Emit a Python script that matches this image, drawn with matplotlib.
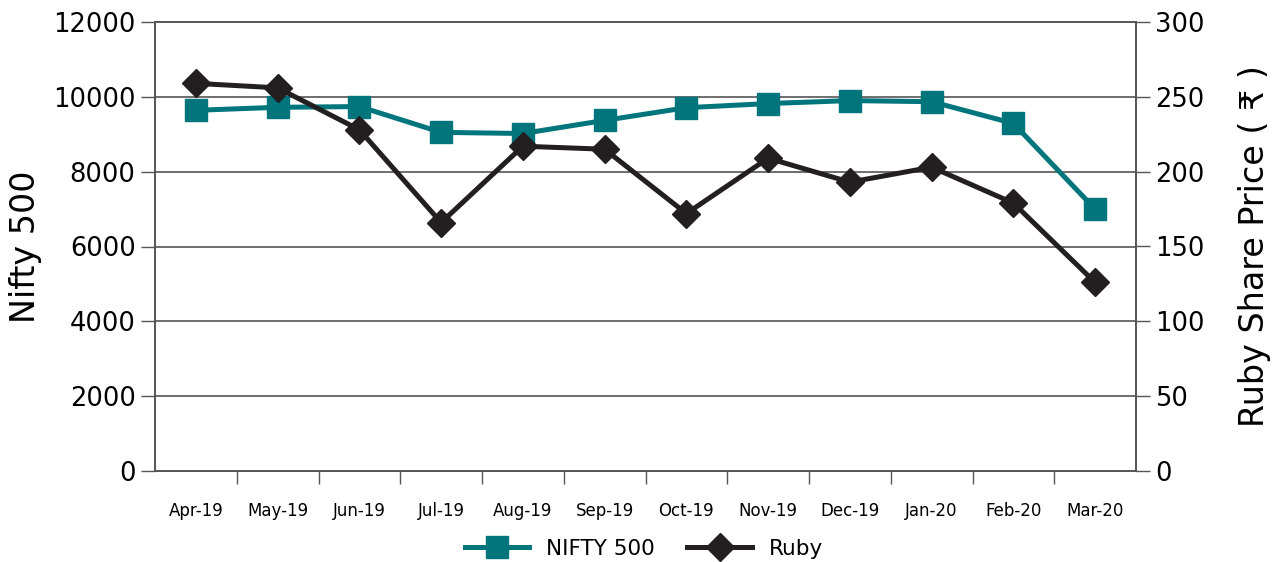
import matplotlib
matplotlib.use("Agg")
import matplotlib.pyplot as plt
import numpy as np

plt.rcParams['font.family'] = ['DejaVu Sans']

months = ['Apr-19', 'May-19', 'Jun-19', 'Jul-19', 'Aug-19', 'Sep-19',
          'Oct-19', 'Nov-19', 'Dec-19', 'Jan-20', 'Feb-20', 'Mar-20']
nifty = [9640, 9720, 9740, 9050, 9020, 9370, 9710, 9820, 9900, 9870, 9290, 7000]
ruby = [259, 256, 228, 166, 217, 215, 172, 209, 193, 203, 179, 126]

teal = '#00757c'
dark = '#231f20'
grid_col = '#555555'

fig = plt.figure(figsize=(12.77, 5.62), dpi=100)
ax = fig.add_axes([155/1277, 1 - 471/562, (1136-155)/1277, (471-22)/562])
ax2 = ax.twinx()

x = np.arange(len(months))
ax.plot(x, nifty, color=teal, lw=3.6, marker='s', ms=16, label='NIFTY 500', zorder=3)
ax2.plot(x, ruby, color=dark, lw=3.6, marker='D', ms=14, label='Ruby', zorder=3)

ax.set_xlim(-0.5, len(months) - 0.5)
ax.set_ylim(0, 12000)
ax2.set_ylim(0, 300)
ax.set_yticks(range(0, 12001, 2000))
ax2.set_yticks(range(0, 301, 50))

ax.set_xticks(x)
ax.set_xticklabels(months, fontsize=12)
ax.set_xticks(np.arange(0.5, len(months) - 0.5, 1), minor=True)
ax.tick_params(axis='x', which='major', length=0, pad=22)
ax.tick_params(axis='x', which='minor', length=9, width=1, color=grid_col)

ax.tick_params(axis='y', length=10, width=1, color=grid_col, labelsize=18.5, pad=4)
ax2.tick_params(axis='y', length=10, width=1, color=grid_col, labelsize=18.5, pad=4)

for yv in range(2000, 10001, 2000):
    ax.axhline(yv, color=grid_col, lw=1.2, zorder=1)

for a in (ax, ax2):
    for s in ('left', 'right', 'bottom', 'top'):
        a.spines[s].set_color(grid_col)
        a.spines[s].set_linewidth(1.2)

ax.set_ylabel('Nifty 500', fontsize=24, labelpad=8)
ax2.set_ylabel('Ruby Share Price ( ₹ )', fontsize=24, labelpad=24)

h1, l1 = ax.get_legend_handles_labels()
h2, l2 = ax2.get_legend_handles_labels()
fig.legend(h1 + h2, l1 + l2, loc='center', bbox_to_anchor=(644/1277, 1 - 549/562),
           ncol=2, frameon=False, fontsize=15.5, handlelength=3, columnspacing=1.5)

fig.savefig('out.png', dpi=100)
